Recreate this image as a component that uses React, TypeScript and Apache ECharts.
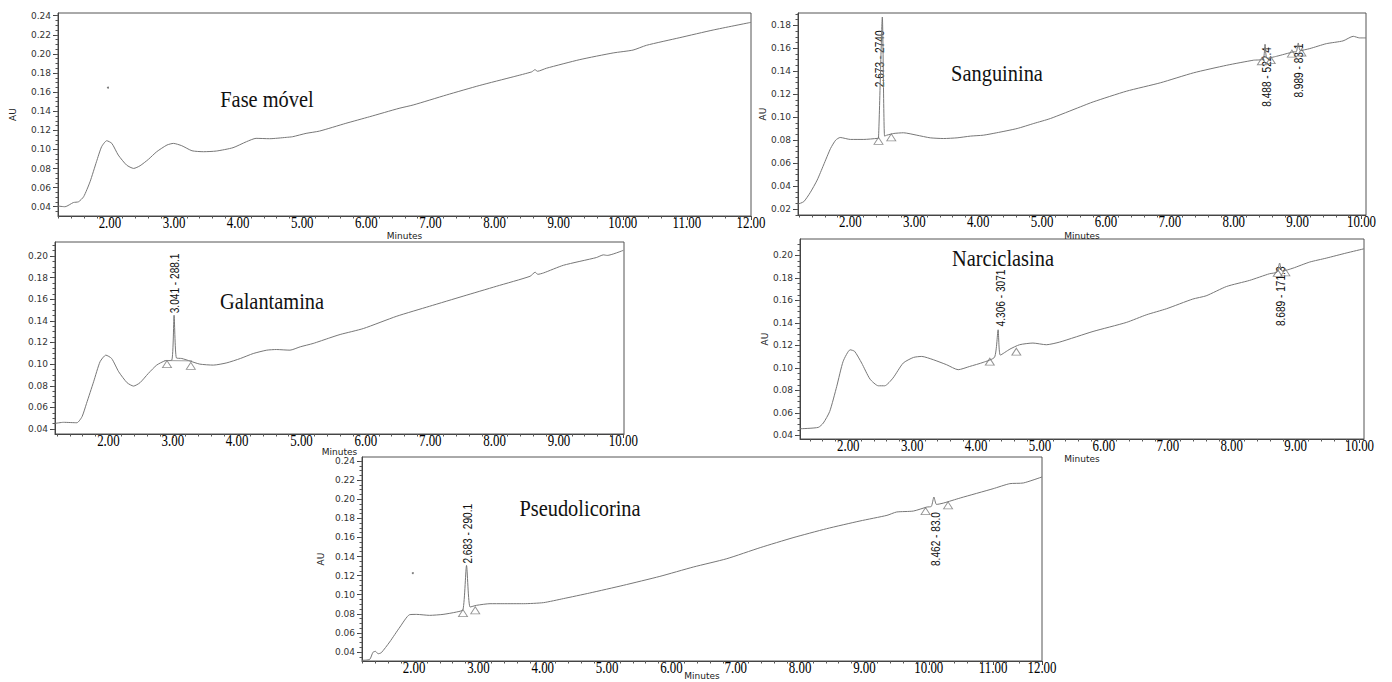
import React, { useEffect, useRef } from "react";
import * as echarts from "echarts";

// ---------- Fase móvel ----------
const faseTime = [1.19, 1.3, 1.43, 1.51, 1.59, 1.69, 1.79, 1.87, 1.95, 2.03, 2.13, 2.26, 2.37, 2.47, 2.6, 2.73, 2.89, 2.99, 3.12, 3.28, 3.46, 3.66, 3.92, 4.13, 4.28, 4.49, 4.75, 4.85, 5.06, 5.27, 5.68, 6.05, 6.51, 6.73, 7.25, 7.77, 8.29, 8.58, 8.63, 8.67, 8.81, 9.33, 9.85, 10.16, 10.37, 10.89, 11.41, 12.0];
const faseAU = [0.0407, 0.04, 0.0444, 0.0452, 0.0505, 0.0662, 0.0871, 0.1028, 0.1091, 0.1063, 0.0941, 0.0836, 0.0801, 0.0829, 0.0896, 0.0976, 0.1046, 0.1063, 0.1039, 0.0986, 0.0976, 0.0983, 0.1018, 0.1081, 0.1116, 0.1112, 0.1126, 0.1133, 0.1168, 0.1192, 0.1273, 0.1342, 0.143, 0.1465, 0.157, 0.167, 0.176, 0.1812, 0.1835, 0.1818, 0.185, 0.194, 0.201, 0.204, 0.209, 0.217, 0.225, 0.233];
const faseDotTime = [1.97];
const faseDotAU = [0.1646];

// ---------- Sanguinina ----------
const sangTime = [1.18, 1.27, 1.37, 1.48, 1.58, 1.69, 1.77, 1.84, 2.0, 2.21, 2.42, 2.44, 2.5, 2.535, 2.57, 2.68, 2.83, 3.04, 3.25, 3.46, 3.67, 3.88, 4.08, 4.29, 4.61, 4.87, 5.13, 5.6, 5.8, 6.32, 6.85, 7.37, 7.89, 8.31, 8.46, 8.49, 8.52, 8.67, 8.93, 8.98, 9.01, 9.04, 9.19, 9.45, 9.71, 9.87, 9.97, 10.07];
const sangAU = [0.0243, 0.0264, 0.0342, 0.0452, 0.0583, 0.0728, 0.08, 0.0823, 0.0806, 0.0806, 0.0815, 0.0817, 0.1872, 0.0835, 0.0843, 0.0858, 0.0864, 0.0843, 0.082, 0.0814, 0.082, 0.0835, 0.0843, 0.0864, 0.0901, 0.0945, 0.0988, 0.109, 0.1133, 0.1226, 0.1299, 0.1386, 0.1452, 0.1496, 0.1505, 0.1635, 0.1512, 0.153, 0.1568, 0.157, 0.1646, 0.158, 0.1597, 0.164, 0.1664, 0.1704, 0.169, 0.169];
const sangTriTime = [2.44, 2.64, 8.44, 8.58, 8.91, 9.06];
const sangTriAU = [0.0794, 0.0824, 0.1487, 0.1496, 0.1554, 0.1563];
const sangPeakTime = [2.45, 8.5, 9.01];
const sangPeakAU = [0.126, 0.161, 0.1641];
const sangPeakText = ["2.673 - 2740", "8.488 - 522.4", "8.989 - 83.1"];
const sangPeakUp = [true, false, false];

// ---------- Galantamina ----------
const galTime = [1.17, 1.3, 1.51, 1.59, 1.66, 1.77, 1.87, 1.96, 2.05, 2.16, 2.29, 2.39, 2.49, 2.62, 2.75, 2.88, 2.985, 3.02, 3.055, 3.14, 3.27, 3.42, 3.63, 3.84, 4.05, 4.25, 4.46, 4.61, 4.82, 4.98, 5.18, 5.44, 5.6, 5.96, 6.48, 6.99, 7.51, 8.03, 8.55, 8.63, 8.67, 8.76, 9.07, 9.58, 9.69, 9.75, 10.0];
const galAU = [0.0452, 0.0462, 0.0458, 0.0514, 0.0637, 0.0837, 0.1022, 0.1083, 0.1052, 0.0929, 0.0828, 0.0797, 0.0828, 0.0914, 0.0991, 0.1031, 0.1037, 0.1452, 0.1058, 0.1052, 0.1028, 0.1, 0.0991, 0.1012, 0.1052, 0.1098, 0.1129, 0.1135, 0.1129, 0.116, 0.1191, 0.1243, 0.1274, 0.1329, 0.1443, 0.1535, 0.1628, 0.172, 0.1812, 0.185, 0.183, 0.1843, 0.1914, 0.1985, 0.201, 0.2005, 0.2052];
const galTriTime = [2.91, 3.28];
const galTriAU = [0.1, 0.0984];
const galBaseTime = [2.87, 3.3];
const galBaseAU = [0.1033, 0.103];
const galPeakTime = [3.02];
const galPeakAU = [0.147];
const galPeakText = ["3.041 - 288.1"];
const galPeakUp = [true];

// ---------- Narciclasina ----------
const narcTime = [1.245, 1.53, 1.61, 1.71, 1.82, 1.92, 2.03, 2.1, 2.21, 2.34, 2.47, 2.57, 2.7, 2.86, 3.02, 3.15, 3.33, 3.54, 3.72, 3.9, 4.11, 4.29, 4.345, 4.38, 4.53, 4.68, 4.89, 5.1, 5.31, 5.83, 6.35, 6.67, 6.98, 7.39, 7.6, 7.92, 8.28, 8.59, 8.71, 8.75, 8.79, 8.96, 9.22, 9.48, 9.79, 10.07];
const narcAU = [0.0459, 0.0471, 0.051, 0.0613, 0.0836, 0.1058, 0.1161, 0.1147, 0.1043, 0.0901, 0.0841, 0.0841, 0.091, 0.1043, 0.1093, 0.1102, 0.1073, 0.1028, 0.0984, 0.1013, 0.1049, 0.1096, 0.1339, 0.1114, 0.1167, 0.1206, 0.1221, 0.1206, 0.123, 0.1324, 0.1404, 0.1473, 0.1526, 0.1612, 0.1641, 0.1724, 0.1778, 0.1837, 0.1852, 0.1932, 0.186, 0.1887, 0.1941, 0.1976, 0.2021, 0.2059];
const narcTriTime = [4.215, 4.63, 8.72, 8.84];
const narcTriAU = [0.1055, 0.1144, 0.1844, 0.1849];
const narcPeakTime = [4.37, 8.75];
const narcPeakAU = [0.1369, 0.1902];
const narcPeakText = ["4.306 - 3071", "8.689 - 171.3"];
const narcPeakUp = [true, false];

// ---------- Pseudolicorina ----------
const pseudoTime = [1.19, 1.31, 1.36, 1.4, 1.44, 1.49, 1.62, 1.78, 1.93, 2.04, 2.24, 2.45, 2.66, 2.76, 2.815, 2.87, 2.97, 3.18, 3.38, 3.7, 4.01, 4.32, 4.73, 5.25, 5.82, 6.34, 6.86, 7.38, 7.89, 8.41, 8.93, 9.35, 9.5, 9.76, 9.97, 10.04, 10.08, 10.12, 10.23, 10.49, 11.0, 11.26, 11.47, 11.76];
const pseudoAU = [0.0313, 0.0323, 0.0397, 0.0407, 0.0382, 0.0393, 0.0505, 0.0662, 0.0791, 0.0794, 0.0784, 0.0794, 0.0819, 0.0843, 0.1307, 0.0871, 0.0889, 0.0906, 0.0906, 0.0906, 0.0917, 0.0959, 0.1018, 0.1098, 0.1192, 0.129, 0.1377, 0.1493, 0.1597, 0.1691, 0.1772, 0.1831, 0.1866, 0.1876, 0.1918, 0.1925, 0.2023, 0.1945, 0.196, 0.2013, 0.211, 0.2163, 0.217, 0.2233];
const pseudoDotTime = [1.98];
const pseudoDotAU = [0.1227];
const pseudoTriTime = [2.76, 2.95, 9.95, 10.3];
const pseudoTriAU = [0.0808, 0.0837, 0.1876, 0.1936];
const pseudoPeakTime = [2.815, 10.1];
const pseudoPeakAU = [0.1326, 0.1866];
const pseudoPeakText = ["2.683 - 290.1", "8.462 - 83.0"];
const pseudoPeakUp = [true, false];

// ---------- Tick values / labels ----------
const xTicks12 = [2, 3, 4, 5, 6, 7, 8, 9, 10, 11, 12];
const xLabels12 = ["2.00", "3.00", "4.00", "5.00", "6.00", "7.00", "8.00", "9.00", "10.00", "11.00", "12.00"];
const xTicks10 = [2, 3, 4, 5, 6, 7, 8, 9, 10];
const xLabels10 = ["2.00", "3.00", "4.00", "5.00", "6.00", "7.00", "8.00", "9.00", "10.00"];
const pseudoXTicks = [2, 3, 4, 5, 6, 7, 8, 9, 10, 11, 11.76];
const pseudoXLabels = ["2.00", "3.00", "4.00", "5.00", "6.00", "7.00", "8.00", "9.00", "10.00", "11.00", "12.00"];
const yTicks024 = [0.04, 0.06, 0.08, 0.1, 0.12, 0.14, 0.16, 0.18, 0.2, 0.22, 0.24];
const yTicks018 = [0.02, 0.04, 0.06, 0.08, 0.1, 0.12, 0.14, 0.16, 0.18];
const yTicks020 = [0.04, 0.06, 0.08, 0.1, 0.12, 0.14, 0.16, 0.18, 0.2];

const PANELS = [
  {
    title: "Fase móvel", titleX: 267, titleY: 99,
    time: faseTime, au: faseAU, triT: [] as number[], triV: [] as number[],
    dotT: faseDotTime, dotV: faseDotAU, baseT: [] as number[], baseV: [] as number[],
    peakT: [] as number[], peakV: [] as number[], peakText: [] as string[], peakUp: [] as boolean[],
    grid: { left: 58, top: 13, width: 693, height: 203 },
    xMin: 1.19, xMax: 12, yMin: 0.0303, yMax: 0.2428,
    xTicks: xTicks12, xLabels: xLabels12, yTicks: yTicks024,
    auName: "AU", auGap: 41, minGap: 15,
  },
  {
    title: "Sanguinina", titleX: 997, titleY: 73,
    time: sangTime, au: sangAU, triT: sangTriTime, triV: sangTriAU,
    dotT: [] as number[], dotV: [] as number[], baseT: [] as number[], baseV: [] as number[],
    peakT: sangPeakTime, peakV: sangPeakAU, peakText: sangPeakText, peakUp: sangPeakUp,
    grid: { left: 798, top: 13, width: 568, height: 202 },
    xMin: 1.18, xMax: 10.07, yMin: 0.0148, yMax: 0.1907,
    xTicks: xTicks10, xLabels: xLabels10, yTicks: yTicks018,
    auName: "AU", auGap: 31, minGap: 16,
  },
  {
    title: "Galantamina", titleX: 272, titleY: 301,
    time: galTime, au: galAU, triT: galTriTime, triV: galTriAU,
    dotT: [] as number[], dotV: [] as number[], baseT: galBaseTime, baseV: galBaseAU,
    peakT: galPeakTime, peakV: galPeakAU, peakText: galPeakText, peakUp: galPeakUp,
    grid: { left: 55, top: 242, width: 569, height: 192 },
    xMin: 1.17, xMax: 10.01, yMin: 0.0354, yMax: 0.2129,
    xTicks: xTicks10, xLabels: xLabels10, yTicks: yTicks020,
    auName: "", auGap: 31, minGap: 13,
  },
  {
    title: "Narciclasina", titleX: 1003, titleY: 258,
    time: narcTime, au: narcAU, triT: narcTriTime, triV: narcTriAU,
    dotT: [] as number[], dotV: [] as number[], baseT: [] as number[], baseV: [] as number[],
    peakT: narcPeakTime, peakV: narcPeakAU, peakText: narcPeakText, peakUp: narcPeakUp,
    grid: { left: 800, top: 239, width: 564, height: 200 },
    xMin: 1.245, xMax: 10.07, yMin: 0.0368, yMax: 0.2146,
    xTicks: xTicks10, xLabels: xLabels10, yTicks: yTicks020,
    auName: "AU", auGap: 31, minGap: 15,
  },
  {
    title: "Pseudolicorina", titleX: 580, titleY: 508,
    time: pseudoTime, au: pseudoAU, triT: pseudoTriTime, triV: pseudoTriAU,
    dotT: pseudoDotTime, dotV: pseudoDotAU, baseT: [] as number[], baseV: [] as number[],
    peakT: pseudoPeakTime, peakV: pseudoPeakAU, peakText: pseudoPeakText, peakUp: pseudoPeakUp,
    grid: { left: 362, top: 457, width: 680, height: 204 },
    xMin: 1.19, xMax: 11.76, yMin: 0.0306, yMax: 0.2442,
    xTicks: pseudoXTicks, xLabels: pseudoXLabels, yTicks: yTicks024,
    auName: "AU", auGap: 37, minGap: 10,
  },
];

function steps(min: number, max: number, step: number): number[] {
  const out: number[] = [];
  const start = Math.ceil(min / step - 1e-9);
  for (let k = start; k * step <= max + 1e-9; k++) out.push(+(k * step).toFixed(4));
  return out;
}

const SANS = '"DejaVu Sans", "Liberation Sans", sans-serif';
const SERIF = '"Liberation Serif", "Times New Roman", serif';

function buildOption() {
  const grid: any[] = [];
  const xAxis: any[] = [];
  const yAxis: any[] = [];
  const series: any[] = [];
  PANELS.forEach((p, i) => {
    grid.push({
      ...p.grid, show: true, borderColor: "#555", borderWidth: 1,
      backgroundColor: "rgba(0,0,0,0)", containLabel: false, outerBoundsMode: "none",
    });
    xAxis.push({
      type: "value", gridIndex: i, min: p.xMin, max: p.xMax, position: "bottom",
      axisLine: { show: true, onZero: false, lineStyle: { color: "#444", width: 1 } },
      axisTick: { show: true, length: 4, customValues: p.xTicks, lineStyle: { color: "#444" } },
      axisLabel: { show: false }, splitLine: { show: false },
      name: "Minutes", nameLocation: "middle", nameGap: p.minGap,
      nameTextStyle: { fontFamily: SANS, fontSize: 9, color: "#222" },
    });
    xAxis.push({
      type: "value", gridIndex: i, min: p.xMin, max: p.xMax, position: "bottom",
      axisLine: { show: false, onZero: false },
      axisTick: { show: true, length: 2.5, customValues: steps(p.xMin, p.xMax, 0.2), lineStyle: { color: "#555" } },
      axisLabel: { show: false }, splitLine: { show: false },
    });
    yAxis.push({
      type: "value", gridIndex: i, min: p.yMin, max: p.yMax, position: "left",
      axisLine: { show: true, onZero: false, lineStyle: { color: "#444", width: 1 } },
      axisTick: { show: true, length: 5, customValues: p.yTicks, lineStyle: { color: "#444" } },
      axisLabel: {
        show: true, customValues: p.yTicks, margin: 7,
        formatter: (v: number) => Number(v).toFixed(2),
        fontFamily: SANS, fontSize: 9, color: "#333",
      },
      splitLine: { show: false },
      name: p.auName, nameLocation: "middle", nameGap: p.auGap,
      nameTextStyle: { fontFamily: SANS, fontSize: 9, color: "#222" },
    });
    yAxis.push({
      type: "value", gridIndex: i, min: p.yMin, max: p.yMax, position: "left",
      axisLine: { show: false, onZero: false },
      axisTick: { show: true, length: 2.5, customValues: steps(p.yMin, p.yMax, 0.005), lineStyle: { color: "#555" } },
      axisLabel: { show: false }, splitLine: { show: false },
    });
    const xi = 2 * i;
    series.push({
      type: "line", xAxisIndex: xi, yAxisIndex: xi, silent: true, z: 3,
      data: p.time.map((t, k) => [t, p.au[k]]), symbol: "none",
      smooth: 0.2,
      lineStyle: { color: "#777", width: 1 },
    });
    if (p.baseT.length) {
      series.push({
        type: "line", xAxisIndex: xi, yAxisIndex: xi, silent: true, z: 3,
        data: p.baseT.map((t, k) => [t, p.baseV[k]]), symbol: "none",
        lineStyle: { color: "#888", width: 0.8 },
      });
    }
    if (p.triT.length) {
      series.push({
        type: "scatter", xAxisIndex: xi, yAxisIndex: xi, silent: true, z: 4,
        data: p.triT.map((t, k) => [t, p.triV[k]]), symbol: "triangle", symbolSize: [9, 7],
        itemStyle: { color: "rgba(255,255,255,0)", borderColor: "#777", borderWidth: 0.9 },
      });
    }
    if (p.dotT.length) {
      series.push({
        type: "scatter", xAxisIndex: xi, yAxisIndex: xi, silent: true, z: 4,
        data: p.dotT.map((t, k) => [t, p.dotV[k]]), symbol: "circle", symbolSize: 2,
        itemStyle: { color: "#555" },
      });
    }
  });
  return {
    animation: false,
    backgroundColor: "#fff",
    grid, xAxis, yAxis, series,
  };
}

export default function App() {
  const ref = useRef<HTMLDivElement | null>(null);
  useEffect(() => {
    const el = ref.current;
    if (!el) return;
    const chart = echarts.init(el, null, { renderer: "svg" });
    chart.setOption(buildOption() as any);
    const elements: any[] = [];
    PANELS.forEach((p, i) => {
      const bottom = p.grid.top + p.grid.height;
      p.xTicks.forEach((v, k) => {
        const px = chart.convertToPixel({ xAxisIndex: 2 * i } as any, v) as any as number;
        elements.push({
          type: "text", x: px, y: bottom - 2, scaleX: 0.76, silent: true,
          style: {
            text: p.xLabels[k], font: `17px ${SERIF}`, fill: "#000",
            align: "center", verticalAlign: "top", textAlign: "center", textVerticalAlign: "top",
          },
        });
      });
      p.peakT.forEach((t, k) => {
        const px = chart.convertToPixel({ xAxisIndex: 2 * i } as any, t) as any as number;
        const py = chart.convertToPixel({ yAxisIndex: 2 * i } as any, p.peakV[k]) as any as number;
        const al = p.peakUp[k] ? "left" : "right";
        elements.push({
          type: "text", x: px, y: py, rotation: Math.PI / 2, scaleX: 0.78, silent: true,
          style: {
            text: p.peakText[k], font: '13px "Liberation Sans", Arial, sans-serif', fill: "#111",
            align: al, verticalAlign: "middle", textAlign: al, textVerticalAlign: "middle",
          },
        });
      });
      elements.push({
        type: "text", x: p.titleX, y: p.titleY, scaleX: 0.85, silent: true,
        style: {
          text: p.title, font: `24px ${SERIF}`, fill: "#111",
          align: "center", verticalAlign: "middle", textAlign: "center", textVerticalAlign: "middle",
        },
      });
    });
    chart.setOption({ graphic: { elements } } as any);
    return () => chart.dispose();
  }, []);
  return (
    <div
      ref={ref}
      style={{ position: "fixed", left: 0, top: 0, width: 1392, height: 682, background: "#fff" }}
    />
  );
}
